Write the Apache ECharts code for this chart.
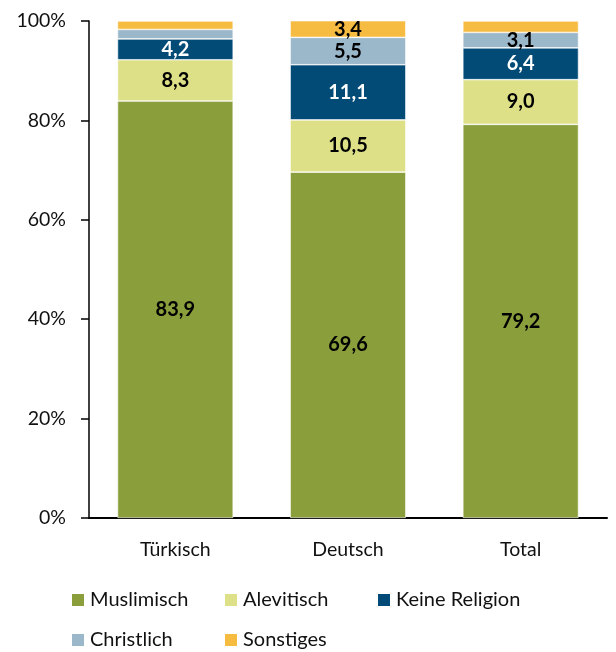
<!DOCTYPE html>
<html>
<head>
<meta charset="utf-8">
<script src="https://cdn.jsdelivr.net/npm/echarts@6/dist/echarts.min.js"></script>
<style>
  html, body { margin: 0; padding: 0; background: #fff; }
  #chart { width: 616px; height: 652px; }
</style>
</head>
<body>
<div id="chart"></div>
<script>
// Kategorien und Werte (Prozent)
var categories = ["Türkisch", "Deutsch", "Total"];
var muslimisch = [83.9, 69.6, 79.2];
var alevitisch = [8.3, 10.5, 9.0];
var keineReligion = [4.2, 11.1, 6.4];
var christlich = [1.9, 5.5, 3.1];
var sonstiges = [1.7, 3.4, 2.3];
var yTicks = [0, 20, 40, 60, 80, 100];

var fontName = "Lato, 'Open Sans', sans-serif";

function makeSeries(name, data, color, labelColor) {
  return {
    name: name,
    type: "bar",
    stack: "total",
    data: data,
    barWidth: "67%",
    itemStyle: { color: color, borderColor: "#fff", borderWidth: 0.6 },
    label: {
      show: true,
      position: "inside",
      color: labelColor,
      fontFamily: fontName,
      fontWeight: "bold",
      fontSize: 20,
      formatter: function (p) {
        // kleine Segmente ohne Beschriftung
        return p.value < 3 ? "" : p.value.toFixed(1).replace(".", ",");
      }
    }
  };
}

var myChart = echarts.init(document.getElementById("chart"));
myChart.setOption({
  animation: false,
  grid: { left: 89, right: 9, top: 21, bottom: 134 },
  legend: {
    left: 70,
    top: 580,
    width: 480,
    padding: 0,
    itemWidth: 14,
    itemHeight: 14,
    itemGap: 0,
    icon: "rect",
    formatter: "{a|{name}}",
    textStyle: {
      rich: {
        a: { fontFamily: fontName, fontSize: 20, color: "#111", width: 133, height: 40, lineHeight: 40 }
      }
    },
    data: ["Muslimisch", "Alevitisch", "Keine Religion", "Christlich", "Sonstiges"]
  },
  xAxis: {
    type: "category",
    data: categories,
    axisLine: { lineStyle: { color: "#000", width: 2 } },
    axisTick: { show: false },
    axisLabel: { color: "#111", fontFamily: fontName, fontSize: 19.5, margin: 22 }
  },
  yAxis: {
    type: "value",
    min: yTicks[0],
    max: yTicks[yTicks.length - 1],
    interval: 20,
    axisLine: { show: true, lineStyle: { color: "#000", width: 1.5 } },
    axisTick: { show: true, length: 8, lineStyle: { color: "#000", width: 1.5 } },
    splitLine: { show: false },
    axisLabel: {
      color: "#111",
      fontFamily: fontName,
      fontSize: 19.5,
      margin: 23,
      formatter: "{value}%"
    }
  },
  series: [
    makeSeries("Muslimisch", muslimisch, "#8a9e3c", "#000"),
    makeSeries("Alevitisch", alevitisch, "#dde087", "#000"),
    makeSeries("Keine Religion", keineReligion, "#024b77", "#fff"),
    makeSeries("Christlich", christlich, "#9bb7ca", "#000"),
    makeSeries("Sonstiges", sonstiges, "#f6bb41", "#000")
  ]
});
</script>
</body>
</html>
